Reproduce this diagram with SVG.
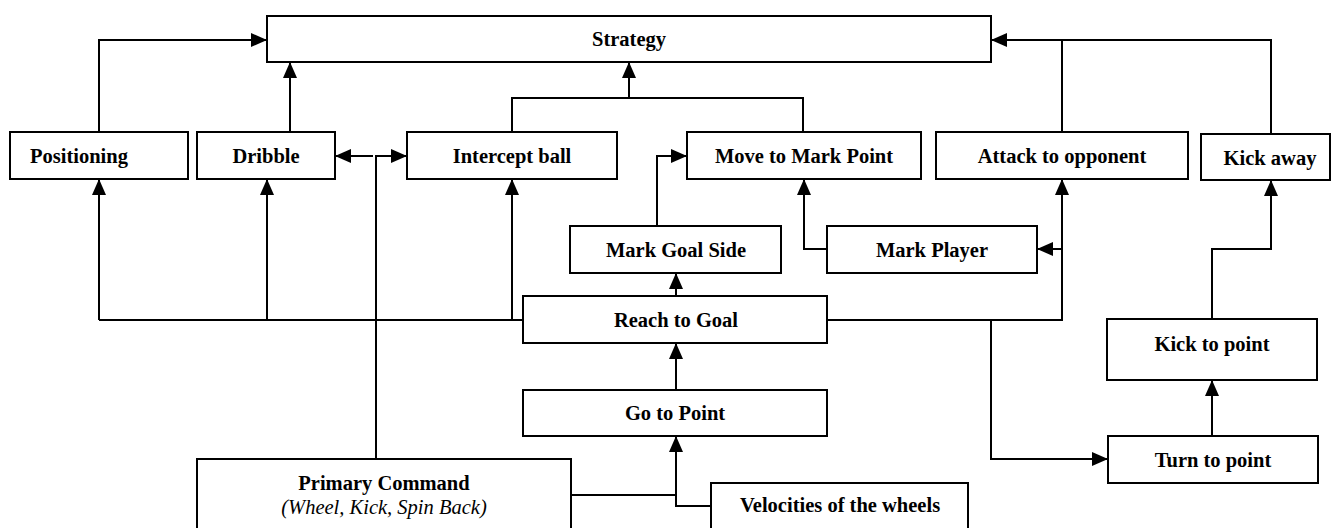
<svg xmlns="http://www.w3.org/2000/svg" width="1332" height="528" viewBox="0 0 1332 528">
<style>
.box{fill:#fff;stroke:#000;stroke-width:2}
.lbl{font-family:"Liberation Serif","Times New Roman",serif;font-weight:bold;font-size:20.5px;fill:#000;text-anchor:middle}
.it{font-family:"Liberation Serif","Times New Roman",serif;font-style:italic;font-size:20.5px;fill:#000;text-anchor:middle}
.c{fill:none;stroke:#000;stroke-width:2}
.a{marker-end:url(#ah)}
</style>
<defs>
<marker id="ah" markerUnits="userSpaceOnUse" markerWidth="16" markerHeight="14" viewBox="0 0 16 14" refX="16" refY="7" orient="auto">
<path d="M0,0 L16,7 L0,14 Z" fill="#000"/>
</marker>
</defs>
<rect width="1332" height="528" fill="#fff"/>
<g id="connectors">
<path class="c a" d="M99,132 V40 H267"/>
<path class="c a" d="M290,132 V62"/>
<path class="c" d="M512,132 V98 H803 V132"/>
<path class="c a" d="M629,98 V62"/>
<path class="c a" d="M1271,134 V40 H991"/>
<path class="c" d="M1062,132 V40"/>
<path class="c a" d="M373,156 H335"/>
<path class="c a" d="M376,459 V156 H407"/>
<path class="c" d="M99,320 H523"/>
<path class="c a" d="M99,320 V179"/>
<path class="c a" d="M267,320 V179"/>
<path class="c a" d="M512,320 V179"/>
<path class="c a" d="M676,296 V273"/>
<path class="c a" d="M657,226 V156 H687"/>
<path class="c a" d="M827,249 H804 V179"/>
<path class="c a" d="M827,320 H1062 V179"/>
<path class="c a" d="M1062,249 H1037"/>
<path class="c a" d="M991,320 V459 H1108"/>
<path class="c a" d="M1212,436 V380"/>
<path class="c a" d="M1212,319 V249 H1271 V180"/>
<path class="c a" d="M676,390 V343"/>
<path class="c" d="M571,495 H676"/>
<path class="c a" d="M711,506 H676 V436"/>
</g>
<g id="strategy"><rect class="box" x="267" y="16" width="724" height="46"/><text class="lbl" x="629" y="46">Strategy</text></g>
<g id="positioning"><rect class="box" x="10" y="132" width="178" height="47"/><text class="lbl" x="30" y="163" style="text-anchor:start">Positioning</text></g>
<g id="dribble"><rect class="box" x="197" y="132" width="138" height="47"/><text class="lbl" x="266" y="163">Dribble</text></g>
<g id="intercept"><rect class="box" x="407" y="132" width="210" height="47"/><text class="lbl" x="512" y="163">Intercept ball</text></g>
<g id="movemark"><rect class="box" x="687" y="132" width="234" height="47"/><text class="lbl" x="804" y="163">Move to Mark Point</text></g>
<g id="attack"><rect class="box" x="936" y="132" width="252" height="47"/><text class="lbl" x="1062" y="163">Attack to opponent</text></g>
<g id="kickaway"><rect class="box" x="1201" y="134" width="129" height="46"/><text class="lbl" x="1270" y="165">Kick away</text></g>
<g id="markgoal"><rect class="box" x="570" y="226" width="211" height="47"/><text class="lbl" x="676" y="257">Mark Goal Side</text></g>
<g id="markplayer"><rect class="box" x="827" y="226" width="210" height="47"/><text class="lbl" x="932" y="257">Mark Player</text></g>
<g id="reachgoal"><rect class="box" x="523" y="296" width="304" height="47"/><text class="lbl" x="676" y="327">Reach to Goal</text></g>
<g id="kickpoint"><rect class="box" x="1107" y="319" width="210" height="61"/><text class="lbl" x="1212" y="351">Kick to point</text></g>
<g id="gotopoint"><rect class="box" x="523" y="390" width="304" height="46"/><text class="lbl" x="675" y="420">Go to Point</text></g>
<g id="turnpoint"><rect class="box" x="1108" y="436" width="210" height="47"/><text class="lbl" x="1213" y="467">Turn to point</text></g>
<g id="primary"><rect class="box" x="197" y="459" width="374" height="80"/><text class="lbl" x="384" y="490">Primary Command</text><text class="it" x="384" y="514">(Wheel, Kick, Spin Back)</text></g>
<g id="velocities"><rect class="box" x="711" y="483" width="257" height="56"/><text class="lbl" x="840" y="512">Velocities of the wheels</text></g>
</svg>
